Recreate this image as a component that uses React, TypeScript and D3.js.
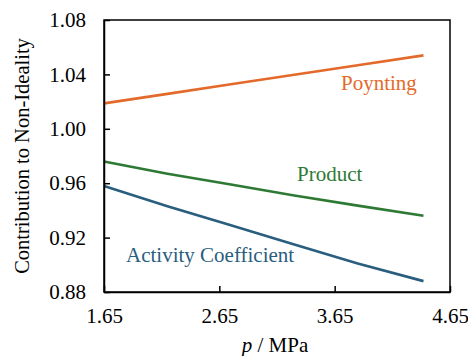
import React, { useEffect, useRef } from 'react';
import * as d3 from 'd3';

// pressure, MPa
const pressures = [1.65, 2.2, 2.75, 3.3, 3.85, 4.42];
const poynting = [1.0187, 1.0257, 1.0327, 1.0397, 1.0467, 1.054];
const product = [0.976, 0.967, 0.959, 0.951, 0.9435, 0.936];
const activity = [0.958, 0.943, 0.929, 0.915, 0.901, 0.888];

const xTicks = [1.65, 2.65, 3.65, 4.65];
const yTicks = [0.88, 0.92, 0.96, 1.0, 1.04, 1.08];

const seriesList = [
    { name: 'Poynting', values: poynting, color: '#E36A2A', label: [341, 90] },
    { name: 'Product', values: product, color: '#2E7A35', label: [297, 181] },
    { name: 'Activity Coefficient', values: activity, color: '#2A5E7E', label: [126, 262] },
];

const App = () => {
    const svgRef = useRef<SVGSVGElement>(null);

    useEffect(() => {
        const svg = d3.select(svgRef.current);
        svg.selectAll('*').remove();

        const margin = { top: 20, right: 18, bottom: 64, left: 104 };
        const width = 468;
        const height = 356;
        const font = '"Liberation Serif", "Times New Roman", serif';
        const fs = '21px';

        const x = d3.scaleLinear().domain([1.65, 4.65]).range([margin.left, width - margin.right]);
        const y = d3.scaleLinear().domain([0.88, 1.08]).range([height - margin.bottom, margin.top]);

        // lines
        const line = d3
            .line<number>()
            .x((d, i) => x(pressures[i]))
            .y(d => y(d));

        seriesList.forEach(s => {
            svg
                .append('path')
                .attr('d', line(s.values))
                .attr('fill', 'none')
                .attr('stroke', s.color)
                .attr('stroke-width', 2.6);
            svg
                .append('text')
                .attr('x', s.label[0])
                .attr('y', s.label[1])
                .attr('fill', s.color)
                .style('font-family', font)
                .style('font-size', fs)
                .text(s.name);
        });

        // frame
        svg
            .append('rect')
            .attr('x', x(1.65))
            .attr('y', y(1.08))
            .attr('width', x(4.65) - x(1.65))
            .attr('height', y(0.88) - y(1.08))
            .attr('fill', 'none')
            .attr('stroke', 'black')
            .attr('stroke-width', 1.5);

        const yAxis = svg
            .append('g')
            .attr('transform', `translate(${margin.left},0)`)
            .call(d3.axisLeft(y).tickValues(yTicks).tickFormat(d3.format('.2f')).tickSizeInner(-6).tickSizeOuter(0).tickPadding(18));
        const xAxis = svg
            .append('g')
            .attr('transform', `translate(0,${height - margin.bottom})`)
            .call(d3.axisBottom(x).tickValues(xTicks).tickFormat(d3.format('.2f')).tickSizeInner(-6).tickSizeOuter(0).tickPadding(16));

        [xAxis, yAxis].forEach(g => {
            g.select('.domain').attr('stroke-width', 1.5);
            g.selectAll('line').attr('stroke-width', 1.5);
            g.selectAll('text').style('font-family', font).style('font-size', fs).attr('fill', 'black');
        });

        // axis titles
        const xt = svg
            .append('text')
            .attr('x', 275)
            .attr('y', 352)
            .attr('text-anchor', 'middle')
            .style('font-family', font)
            .style('font-size', fs);
        xt.append('tspan').style('font-style', 'italic').text('p');
        xt.append('tspan').text(' / MPa');

        svg
            .append('text')
            .attr('transform', `translate(29,156) rotate(-90)`)
            .attr('text-anchor', 'middle')
            .style('font-family', font)
            .style('font-size', '20.5px')
            .text('Contribution to Non-Ideality');
    }, []);

    return (
        <svg
            ref={svgRef}
            width={468}
            height={356}
            style={{ position: 'absolute', left: 0, top: 0, background: 'white' }}
        ></svg>
    );
};

export default App;
